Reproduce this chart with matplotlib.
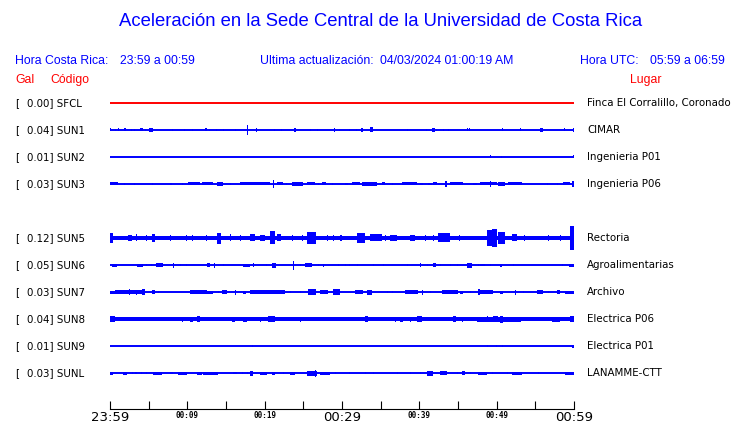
import matplotlib
matplotlib.use("Agg")
from matplotlib import pyplot as plt
import matplotlib.transforms as mtransforms

# stations, top to bottom (slot 4 = SUN4, not shown)
codes = ["SFCL", "SUN1", "SUN2", "SUN3", "SUN5", "SUN6", "SUN7", "SUN8", "SUN9", "SUNL"]
gal = [0.00, 0.04, 0.01, 0.03, 0.12, 0.05, 0.03, 0.04, 0.01, 0.03]
places = ["Finca El Corralillo, Coronado", "CIMAR", "Ingenieria P01", "Ingenieria P06",
          "Rectoria", "Agroalimentarias", "Archivo", "Electrica P06", "Electrica P01",
          "LANAMME-CTT"]
slots = [0, 1, 2, 3, 5, 6, 7, 8, 9, 10]
trace_colors = ["red"] + ["blue"] * 9

# steady noise level of each trace (half height, px)
background = [0, 0, 0, 0, 2.3, 0, 0, 2.0, 0, 0]

# bursts: (start min, end min, half height px)
bursts_sfcl = []
bursts_sun1 = [(0.0, 0.1, 1.5), (0.65, 0.7, 1), (1.1, 1.2, 1.5), (1.8, 2.1, 1.5), (2.7, 2.8, 1),
               (3.1, 3.15, 1), (3.9, 4.3, 1.5), (4.6, 4.7, 1), (5.1, 5.6, 2), (8.0, 8.05, 1),
               (9.55, 9.6, 1), (10.7, 10.75, 1), (12.3, 12.6, 1.5), (12.9, 12.95, 1),
               (13.8, 13.85, 1), (14.6, 14.65, 1), (16.15, 16.2, 1), (17.7, 17.75, 5),
               (18.85, 18.95, 2), (20.15, 20.2, 1), (21.2, 21.25, 1), (22.2, 22.25, 1),
               (23.8, 24.1, 2), (24.8, 24.85, 1), (25.45, 25.5, 1), (25.85, 25.9, 1),
               (26.75, 26.8, 1), (28.95, 29.0, 2), (29.6, 29.65, 1), (30.9, 30.95, 1),
               (31.4, 31.45, 1), (31.9, 31.95, 1), (32.5, 32.7, 2), (33.6, 34.0, 2.5),
               (37.35, 37.4, 1), (37.6, 37.65, 1.5), (38.4, 38.45, 1), (40.45, 40.5, 1),
               (40.85, 40.9, 1), (41.7, 42.0, 2), (42.25, 42.3, 1), (43.05, 43.1, 1),
               (43.8, 43.85, 1), (44.85, 44.9, 1), (46.25, 46.3, 1.5), (46.5, 46.55, 1.5),
               (50.7, 50.75, 1.5), (53.1, 53.15, 1.5), (55.6, 56.0, 2), (58.7, 58.75, 1.5),
               (59.9, 60, 2)]
bursts_sun2 = [(49.2, 49.3, 1.5), (50.65, 50.7, 1), (59.9, 60, 1.5)]
bursts_sun3 = [(0, 1.0, 1.5), (1.8, 1.9, 1), (3.1, 3.15, 1), (5.15, 5.2, 1), (5.5, 5.55, 1),
               (7.75, 8.0, 1), (9.3, 9.35, 1), (10.1, 11.6, 1.5), (11.9, 13.3, 1.5),
               (13.8, 14.6, 2), (15.5, 15.55, 1), (16.8, 20.7, 1.5), (21.05, 21.15, 4),
               (21.6, 22.4, 1.5), (22.85, 22.9, 1), (23.5, 25.0, 2), (25.5, 26.5, 1.5),
               (26.9, 26.95, 1), (27.4, 27.9, 1.5), (28.7, 28.75, 1), (30.4, 30.8, 1),
               (31.3, 32.3, 1.5), (32.6, 34.5, 2), (35.2, 35.6, 1.5), (36.5, 36.6, 1),
               (37.8, 39.7, 1.5), (40.1, 40.5, 1), (41.1, 41.6, 1), (41.8, 42.3, 1.5),
               (42.4, 42.7, 1), (43.3, 43.6, 3), (44.0, 45.6, 1.5), (46.9, 47.5, 1),
               (47.8, 50.0, 1.5), (49.2, 49.3, 3), (50.2, 51.1, 2), (51.5, 53.3, 1.5),
               (56.5, 56.55, 1), (57.8, 57.85, 1), (58.6, 59.5, 1.5), (59.7, 60, 3)]
bursts_sun5 = [(0, 0.4, 5), (0.6, 0.7, 3), (2.3, 2.8, 3), (3.4, 3.5, 3.5), (4.7, 4.8, 3),
               (5.4, 5.8, 4), (7.75, 7.8, 3), (9.8, 9.9, 3), (10.6, 10.7, 3), (12.4, 12.5, 3),
               (13.8, 14.4, 5.5), (15.5, 15.6, 3.5), (16.8, 16.9, 3), (18.1, 18.7, 3.5),
               (19.4, 20.0, 2.8), (20.7, 21.3, 6.5), (21.6, 22.1, 3.5), (23.6, 23.7, 3),
               (24.8, 24.9, 3), (25.5, 26.7, 6), (28.1, 28.2, 3), (28.9, 29.0, 3),
               (29.8, 30.0, 3), (31.9, 33.0, 5), (33.6, 35.2, 3.5), (35.6, 35.7, 3),
               (36.2, 37.1, 3), (38.8, 39.4, 3), (40.7, 40.8, 3), (41.8, 41.9, 3),
               (42.4, 44.0, 4.5), (45.2, 45.3, 3), (46.5, 46.6, 2.8), (48.8, 49.4, 8),
               (49.4, 50.0, 9), (50.2, 51.1, 6), (52.0, 52.6, 3.5), (53.6, 53.7, 3),
               (56.6, 56.7, 3), (58.2, 58.3, 3), (59.5, 60, 12)]
bursts_sun6 = [(0.25, 0.9, 1.5), (3.5, 4.3, 1.5), (4.7, 4.75, 1), (5.4, 5.45, 1), (6.0, 6.9, 2),
               (7.35, 7.4, 2), (8.15, 8.2, 2.5), (9.05, 9.1, 1), (9.9, 9.95, 1), (12.5, 12.9, 2),
               (13.5, 13.55, 2.5), (14.6, 14.65, 1), (15.75, 15.8, 1), (17.2, 18.1, 1.5),
               (18.5, 18.55, 2), (20.2, 20.25, 1), (20.9, 21.5, 2.5), (22.6, 22.65, 1),
               (23.65, 23.7, 4.5), (24.55, 24.6, 1), (25.2, 26.1, 2), (26.9, 26.95, 1),
               (27.55, 27.6, 1.5), (29.5, 29.55, 1), (30.4, 30.45, 1), (31.0, 31.05, 1),
               (31.95, 32.0, 1), (34.0, 34.05, 1), (35.3, 35.35, 1), (38.4, 38.45, 1),
               (40.1, 40.15, 2), (41.0, 41.05, 1), (41.75, 42.15, 2), (42.7, 42.75, 1),
               (43.95, 44.0, 1), (44.9, 44.95, 1), (46.2, 46.8, 2.5), (47.6, 47.65, 1),
               (47.85, 48.5, 1), (49.1, 49.2, 1), (50.4, 50.7, 1.5), (52.1, 52.15, 1),
               (58.45, 58.5, 1), (59.4, 60, 1.5)]
bursts_sun7 = [(0, 0.65, 1.5), (0.65, 4.5, 2), (2.5, 2.6, 3), (3.45, 3.5, 2.5), (4.1, 4.5, 3),
               (5.4, 5.8, 2), (6.2, 6.25, 1), (10.35, 12.5, 2), (12.6, 13.3, 1.5),
               (13.95, 14.0, 1), (14.45, 15.1, 2), (16.2, 16.25, 2.5), (17.2, 17.6, 1.5),
               (18.1, 22.65, 2), (23.3, 23.35, 1), (24.55, 24.6, 1), (25.6, 26.7, 3),
               (27.15, 28.2, 2), (28.8, 29.75, 3), (31.7, 32.7, 2), (33.2, 33.9, 2.5),
               (34.5, 34.55, 1), (35.8, 35.85, 1), (36.45, 36.5, 1), (38.15, 39.85, 2),
               (40.4, 40.45, 2.5), (41.4, 41.45, 1), (42.95, 45.0, 2), (45.25, 45.65, 1.5),
               (46.55, 46.6, 1), (47.6, 47.85, 3), (47.85, 49.5, 2), (50.15, 50.2, 1),
               (50.45, 50.85, 1.5), (52.4, 52.45, 2.5), (53.4, 53.45, 1), (55.2, 56.0, 2),
               (56.65, 56.7, 1), (57.8, 58.2, 2), (58.8, 60, 1.5)]
bursts_sun8 = [(0, 0.65, 3), (9.3, 9.35, 2.5), (10.35, 10.75, 2.5), (11.2, 11.65, 3),
               (15.75, 16.2, 2.5), (17.2, 17.7, 2.5), (19.4, 19.45, 2.5), (20.4, 21.3, 3),
               (22.35, 22.4, 2.5), (24.55, 24.6, 2.5), (33.0, 33.4, 3), (36.9, 36.95, 2.5),
               (37.5, 37.9, 2.5), (38.8, 38.85, 2.5), (39.7, 40.35, 3), (41.35, 41.4, 2.5),
               (44.3, 44.8, 3), (45.6, 45.65, 2.5), (47.45, 53.2, 2.5), (48.75, 48.9, 3),
               (49.55, 50.2, 3), (50.4, 50.8, 3.5), (57.2, 58.2, 2.5), (59.5, 60, 3)]
bursts_sun9 = [(18.35, 18.4, 1), (21.05, 21.1, 1.5), (48.75, 48.8, 1), (50.0, 50.05, 1),
               (50.7, 50.75, 1), (59.8, 60, 1.5)]
bursts_sunl = [(0, 0.4, 1.5), (1.7, 2.2, 1.5), (2.85, 2.9, 1), (3.25, 3.5, 1), (4.1, 4.15, 1),
               (4.75, 4.8, 1), (5.55, 6.7, 1.5), (7.35, 7.4, 1), (7.75, 8.15, 1), (8.8, 10.0, 1.5),
               (11.25, 11.9, 1.5), (12.0, 13.95, 1.5), (15.1, 15.15, 1), (15.9, 16.45, 1),
               (17.05, 17.1, 1), (17.8, 17.85, 1), (18.1, 18.55, 2.5), (19.4, 20.3, 1.5),
               (20.95, 21.35, 1.5), (22.4, 22.45, 1), (23.3, 23.9, 1.5), (24.8, 24.85, 1),
               (25.5, 26.8, 2.5), (26.5, 26.6, 3.5), (27.15, 28.45, 1.5), (29.1, 29.15, 1),
               (31.0, 31.05, 1), (33.0, 33.05, 1), (34.0, 34.05, 1), (34.5, 34.55, 1),
               (35.15, 35.2, 1), (37.1, 37.15, 1), (38.8, 38.85, 1), (40.1, 40.15, 1),
               (41.0, 41.75, 2.5), (42.65, 43.6, 2), (44.85, 45.05, 1), (45.5, 45.9, 2),
               (46.55, 46.6, 1), (47.6, 48.8, 1.5), (49.4, 49.45, 1), (50.15, 50.2, 1),
               (51.4, 51.45, 1), (52.0, 53.3, 1.5), (55.35, 55.4, 1), (58.8, 60, 1.5)]
all_bursts = [bursts_sfcl, bursts_sun1, bursts_sun2, bursts_sun3, bursts_sun5, bursts_sun6,
              bursts_sun7, bursts_sun8, bursts_sun9, bursts_sunl]

tick_minutes = list(range(0, 61, 5))
tick_labels = {0: "23:59", 10: "00:09", 20: "00:19", 30: "00:29", 40: "00:39", 50: "00:49", 60: "00:59"}
big_labels = ["23:59", "00:29", "00:59"]

W, H = 740, 423
SLOT_PX = 27.0
fig = plt.figure(figsize=(W / 100, H / 100), dpi=100)

# trace area
ax = fig.add_axes([110 / W, 1 - 386.5 / H, 464 / W, 297 / H])
ax.set_xlim(0, 60)
ax.set_ylim(10.5, -0.5)
ax.axis("off")

for slot, col, bg, bursts in zip(slots, trace_colors, background, all_bursts):
    ax.plot([0, 60], [slot, slot], color=col, lw=1.4, solid_capstyle="butt")
    if bg > 0:
        ax.bar(30, 2 * bg / SLOT_PX, width=60, bottom=slot - bg / SLOT_PX, color=col, linewidth=0)
    for s, e, a in bursts:
        w = max(e - s, 0.12)
        ax.bar((s + e) / 2, 2 * a / SLOT_PX, width=w, bottom=slot - a / SLOT_PX,
               color=col, linewidth=0)

# row labels
lf = 7.4
tr = mtransforms.blended_transform_factory(fig.transFigure, ax.transData)
for slot, code, g, place in zip(slots, codes, gal, places):
    ax.text(15 / W, slot, "[", transform=tr, fontsize=lf, va="center", ha="left", clip_on=False)
    ax.text(27 / W, slot, f"{g:.2f}] {code}", transform=tr, fontsize=lf, va="center",
            ha="left", clip_on=False)
    ax.text(587 / W, slot, place, transform=tr, fontsize=lf, va="center", ha="left",
            clip_on=False)

# time axis
tax = fig.add_axes([110 / W, 1 - 409 / H, 464 / W, 8 / H])
tax.set_xlim(0, 60)
tax.set_yticks([])
for side in ["top", "left", "right"]:
    tax.spines[side].set_visible(False)
tax.spines["bottom"].set_linewidth(0.8)
tax.patch.set_alpha(0)
tax.set_xticks(tick_minutes)
tax.set_xticklabels([tick_labels.get(m, "") for m in tick_minutes])
tax.tick_params(axis="x", direction="in", length=5.8, width=0.8, pad=1.5)
for lab in tax.get_xticklabels():
    if lab.get_text() in big_labels:
        lab.set_fontsize(9.5)
        lab.set_fontfamily("DejaVu Sans")
    else:
        lab.set_fontsize(5.5)
        lab.set_fontfamily("DejaVu Sans Mono")
        lab.set_fontweight("bold")

# header
hf = "Liberation Sans"
hs = 8.8
fig.text(381 / W, 1 - 22 / H, "Aceleración en la Sede Central de la Universidad de Costa Rica",
         color="blue", fontsize=13.3, family=hf, ha="center", va="center")
fig.text(15 / W, 1 - 61 / H, "Hora Costa Rica:", color="blue", fontsize=hs, family=hf, va="center")
fig.text(120 / W, 1 - 61 / H, "23:59 a 00:59", color="blue", fontsize=hs, family=hf, va="center")
fig.text(260 / W, 1 - 61 / H, "Ultima actualización:", color="blue", fontsize=hs, family=hf,
         va="center")
fig.text(380 / W, 1 - 61 / H, "04/03/2024 01:00:19 AM", color="blue", fontsize=hs, family=hf,
         va="center")
fig.text(580 / W, 1 - 61 / H, "Hora UTC:", color="blue", fontsize=hs, family=hf, va="center")
fig.text(650 / W, 1 - 61 / H, "05:59 a 06:59", color="blue", fontsize=hs, family=hf, va="center")
fig.text(15 / W, 1 - 80 / H, "Gal", color="red", fontsize=hs, family=hf, va="center")
fig.text(50 / W, 1 - 80 / H, "Código", color="red", fontsize=hs, family=hf, va="center")
fig.text(630 / W, 1 - 80 / H, "Lugar", color="red", fontsize=hs, family=hf, va="center")

fig.savefig("out.png", dpi=100)
